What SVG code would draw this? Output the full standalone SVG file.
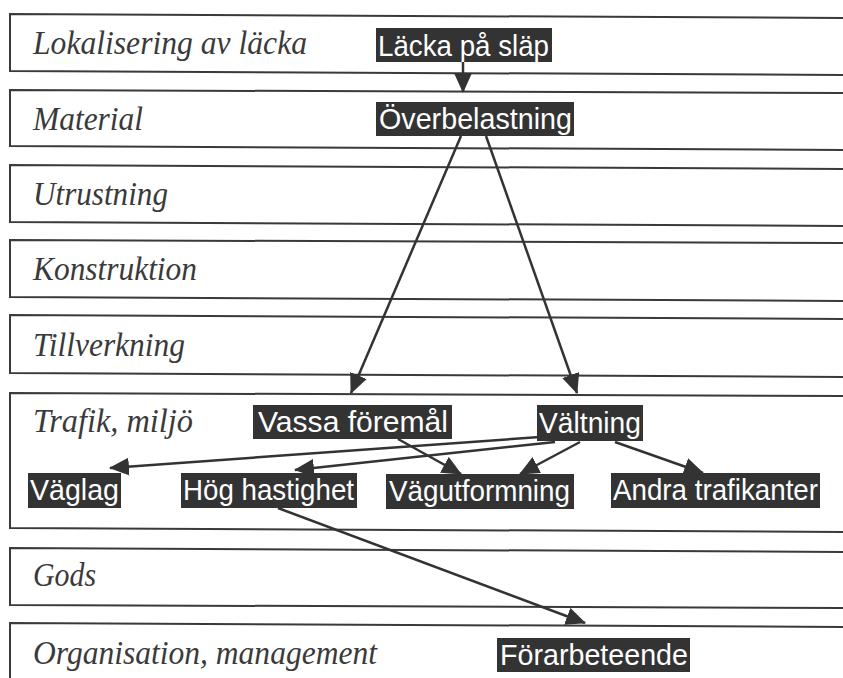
<svg xmlns="http://www.w3.org/2000/svg" width="843" height="678" viewBox="0 0 843 678">
<defs>
<style>
.band{fill:none;stroke:#3a3a3a;stroke-width:2}
.lbl{font-family:"Liberation Serif","Times New Roman",serif;font-style:italic;font-size:33px;fill:#3a3a3a}
.box{fill:#333333}
.nt{font-family:"Liberation Sans",Arial,sans-serif;font-size:30px;fill:#ffffff}
.con{stroke:#333333;stroke-width:2.5;fill:none;marker-end:url(#ah)}
</style>
<marker id="ah" markerUnits="userSpaceOnUse" markerWidth="20" markerHeight="18" viewBox="0 0 20 18" refX="19" refY="9" orient="auto">
<path d="M0,0 L20,9 L0,18 Z" fill="#333333"/>
</marker>
</defs>
<rect width="843" height="678" fill="#ffffff"/>
<g id="bands">
<path class="band" d="M850,18 L10,14 L10,71 L850,75"/>
<path class="band" d="M850,93 L10,90 L10,146 L850,150"/>
<path class="band" d="M850,169 L10,165 L10,222 L850,226"/>
<path class="band" d="M850,243 L10,240 L10,297 L850,301"/>
<path class="band" d="M850,319 L10,315 L10,373 L850,377"/>
<path class="band" d="M850,396 L10,393 L10,528 L850,532"/>
<path class="band" d="M850,552 L10,548 L10,605 L850,608"/>
<path class="band" d="M850,627 L10,623 L10,690"/>
<text class="lbl" x="33" y="54" textLength="274" lengthAdjust="spacingAndGlyphs">Lokalisering av läcka</text>
<text class="lbl" x="33" y="130" textLength="110" lengthAdjust="spacingAndGlyphs">Material</text>
<text class="lbl" x="33" y="205" textLength="135" lengthAdjust="spacingAndGlyphs">Utrustning</text>
<text class="lbl" x="33" y="280" textLength="164" lengthAdjust="spacingAndGlyphs">Konstruktion</text>
<text class="lbl" x="33" y="356" textLength="152" lengthAdjust="spacingAndGlyphs">Tillverkning</text>
<text class="lbl" x="33" y="432" textLength="160" lengthAdjust="spacingAndGlyphs">Trafik, miljö</text>
<text class="lbl" x="33" y="586" textLength="63" lengthAdjust="spacingAndGlyphs">Gods</text>
<text class="lbl" x="33" y="664" textLength="344" lengthAdjust="spacingAndGlyphs">Organisation, management</text>
</g>
<g id="connectors">
<line class="con" x1="463" y1="62" x2="463" y2="92"/>
<line class="con" x1="461" y1="136" x2="351" y2="393"/>
<line class="con" x1="486" y1="136" x2="577" y2="393"/>
<line class="con" x1="398" y1="439" x2="461" y2="474"/>
<line class="con" x1="540" y1="437" x2="110" y2="468"/>
<line class="con" x1="555" y1="442" x2="295" y2="470"/>
<line class="con" x1="580" y1="442" x2="520" y2="474"/>
<line class="con" x1="615" y1="442" x2="703" y2="473"/>
<line class="con" x1="278" y1="508" x2="585" y2="623"/>
</g>
<g id="n-lacka"><rect class="box" x="376" y="28" width="176" height="34"/><text class="nt" x="378" y="56" textLength="171" lengthAdjust="spacingAndGlyphs">Läcka på släp</text></g>
<g id="n-overbelastning"><rect class="box" x="376" y="102" width="198" height="34"/><text class="nt" x="379" y="129" textLength="193" lengthAdjust="spacingAndGlyphs">Överbelastning</text></g>
<g id="n-vassa"><rect class="box" x="253" y="405" width="199" height="34"/><text class="nt" x="258" y="432" textLength="190" lengthAdjust="spacingAndGlyphs">Vassa föremål</text></g>
<g id="n-valtning"><rect class="box" x="537" y="405" width="106" height="36"/><text class="nt" x="539" y="433" textLength="102" lengthAdjust="spacingAndGlyphs">Vältning</text></g>
<g id="n-vaglag"><rect class="box" x="28" y="473" width="93" height="35"/><text class="nt" x="30" y="500" textLength="89" lengthAdjust="spacingAndGlyphs">Väglag</text></g>
<g id="n-hog"><rect class="box" x="181" y="473" width="176" height="35"/><text class="nt" x="183" y="500" textLength="171" lengthAdjust="spacingAndGlyphs">Hög hastighet</text></g>
<g id="n-vagutformning"><rect class="box" x="386" y="474" width="188" height="35"/><text class="nt" x="389" y="501" textLength="181" lengthAdjust="spacingAndGlyphs">Vägutformning</text></g>
<g id="n-andra"><rect class="box" x="611" y="473" width="209" height="35"/><text class="nt" x="613" y="500" textLength="205" lengthAdjust="spacingAndGlyphs">Andra trafikanter</text></g>
<g id="n-forarbeteende"><rect class="box" x="497" y="638" width="193" height="34"/><text class="nt" x="500" y="665" textLength="188" lengthAdjust="spacingAndGlyphs">Förarbeteende</text></g>
</svg>
